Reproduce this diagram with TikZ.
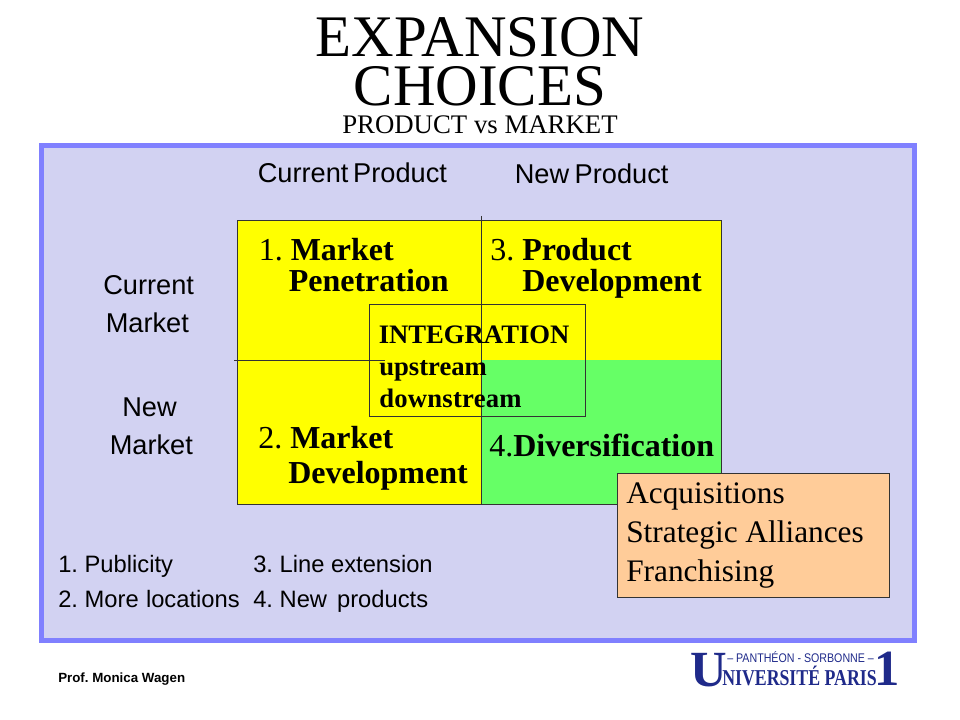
\documentclass[tikz,border=0pt]{standalone}
\usepackage{amsmath}
\usepackage{fontspec}
\setmainfont{Liberation Serif}
\setsansfont{Liberation Sans}
\usetikzlibrary{calc}
\definecolor{framecol}{HTML}{8080FF}
\definecolor{panelcol}{HTML}{D2D2F2}
\definecolor{yellowcol}{HTML}{FFFF00}
\definecolor{greencol}{HTML}{66FF66}
\definecolor{peachcol}{HTML}{FFCC99}
\definecolor{linecol}{HTML}{333333}
\definecolor{logocol}{HTML}{1F2A8A}
\tikzset{
    lbl/.style={inner sep=0pt,anchor=base west,text=black},
    sanslbl/.style={lbl,font=\sffamily\fontsize{20.4}{24}\selectfont},
    smalllbl/.style={lbl,font=\sffamily\fontsize{17.8}{22}\selectfont},
    celllbl/.style={lbl,font=\fontsize{24}{28}\selectfont},
    intlbl/.style={lbl,font=\bfseries\fontsize{20}{24}\selectfont},
    acqlbl/.style={lbl,font=\fontsize{23.5}{28}\selectfont},
    titlelbl/.style={inner sep=0pt,anchor=base,font=\fontsize{44.2}{50}\selectfont},
    box/.style={inner sep=0pt,anchor=north west,outer sep=0pt},
    thinline/.style={draw=linecol,line width=0.75pt},
}
\begin{document}
\frenchspacing
\begin{tikzpicture}[x=0.75pt,y=-0.75pt]
\useasboundingbox (0,0) rectangle (960,720);
\node[box,draw=framecol,fill=panelcol,line width=3.75pt,minimum width=873*0.75pt,minimum height=494*0.75pt] (panel) at (41,146) {};
\node[box,fill=yellowcol,thinline,minimum width=484*0.75pt,minimum height=283*0.75pt] (yellowcell) at (237,221) {};
\fill[greencol] (481,360) rectangle (721,504);
\coordinate (greenbl) at (481,504);
\coordinate (greenbr) at (721,504);
\coordinate (greentr) at (721,360);
\coordinate (vtop) at (481,216);
\coordinate (hleft) at (234,360);
\coordinate (hright) at (385,360);
\draw[thinline] (vtop) -- (greenbl) -- (greenbr) -- (greentr);
\draw[thinline] (hleft) -- (hright);
\node[box,thinline,minimum width=216*0.75pt,minimum height=111*0.75pt] (intbox) at (369,305) {};
\node[box,fill=peachcol,thinline,minimum width=272*0.75pt,minimum height=124*0.75pt] (peach) at (617,473) {};
\node[titlelbl] (title1) at (480,57) {EXPANSION};
\node[titlelbl] (title2) at (480,106) {CHOICES};
\node[inner sep=0pt,anchor=base,font=\fontsize{20.1}{24}\selectfont] (title3) at (480,134) {PRODUCT vs MARKET};
\node[sanslbl] (curprod) at (257.5,183) {Current\hspace{3.6pt}Product};
\node[sanslbl] (newprod) at (514.5,184) {New\hspace{4.2pt}Product};
\node[sanslbl] (curmkt1) at (103,295) {Current};
\node[sanslbl] (curmkt2) at (105.5,332) {Market};
\node[sanslbl] (newmkt1) at (122,416) {New};
\node[sanslbl] (newmkt2) at (109.5,454) {Market};
\node[celllbl] (c1a) at (258.5,260.5) {1. \textbf{Market}};
\node[celllbl] (c1b) at (288.5,291.5) {\textbf{Penetration}};
\node[celllbl] (c3a) at (490,260.5) {3. \textbf{Product}};
\node[celllbl] (c3b) at (522,291.5) {\textbf{Development}};
\node[celllbl] (c2a) at (258,448) {2. \textbf{Market}};
\node[celllbl] (c2b) at (288,483.5) {\textbf{Development}};
\node[celllbl] (c4) at (489,456) {4.\textbf{Diversification}};
\node[intlbl] (int1) at (378.5,343) {INTEGRATION};
\node[intlbl] (int2) at (379,375) {upstream};
\node[intlbl] (int3) at (379,407) {\addfontfeature{LetterSpace=0.9}downstream};
\node[acqlbl] (acq1) at (626,503) {Acquisitions};
\node[acqlbl] (acq2) at (626,542) {Strategic Alliances};
\node[acqlbl] (acq3) at (626,581) {Franchising};
\node[smalllbl] (ex1) at (58,572) {1. Publicity};
\node[smalllbl] (ex2) at (58,607) {2. More\hspace{5.5pt}locations};
\node[smalllbl] (ex3) at (253,572) {3. Line extension};
\node[smalllbl] (ex4) at (253,607) {4. New\hspace{7.5pt}products};
\node[lbl,font=\sffamily\bfseries\fontsize{10}{12}\selectfont] (prof) at (58,682) {Prof. Monica Wagen};
\node[lbl,text=logocol,font=\bfseries\fontsize{38}{38}\selectfont] (logou) at (690,686) {U};
\node[lbl,text=logocol,font=\sffamily\fontsize{9.4}{12}\selectfont] (logotop) at (727,662) {\scalebox{0.85}[1]{-- PANTHÉON - SORBONNE --}};
\node[lbl,text=logocol,font=\bfseries\fontsize{17}{18}\selectfont] (logomid) at (722,685) {\scalebox{0.785}[1]{NIVERSITÉ PARIS}};
\node[lbl,text=logocol,font=\bfseries\fontsize{38}{38}\selectfont] (logoone) at (874,685) {1};
\end{tikzpicture}
\end{document}
